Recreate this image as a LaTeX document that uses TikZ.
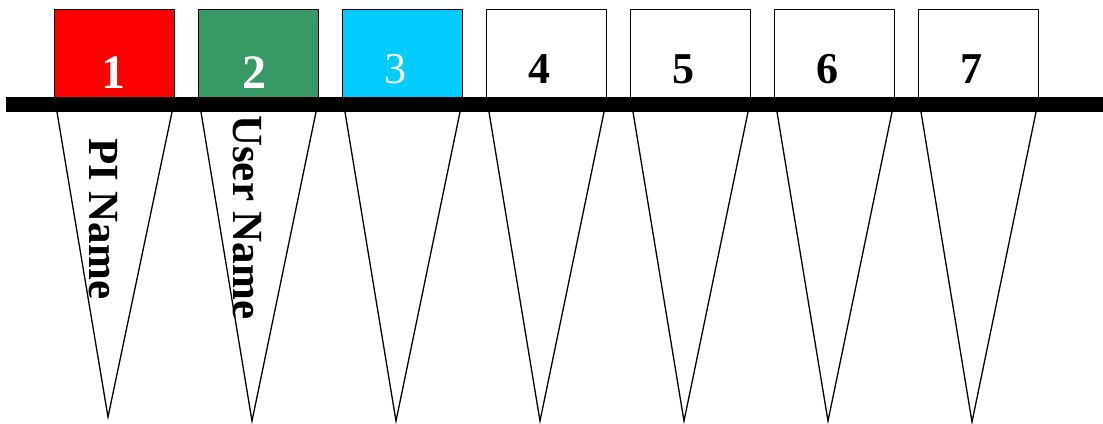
\documentclass[tikz,border=0pt]{standalone}
\usepackage{fontspec}
\setmainfont{Liberation Serif}
\usetikzlibrary{calc}
\definecolor{tubered}{HTML}{FF0000}
\definecolor{tubegreen}{HTML}{369966}
\definecolor{tubecyan}{HTML}{00CCFF}

\tikzset{
  capbox/.style={draw=black, line width=1.4pt, minimum width=120pt, minimum height=88pt, inner sep=0pt, anchor=north west},
  capnum/.style={font=\fontsize{44}{44}\selectfont\bfseries, anchor=base, inner sep=0pt},
  tubelabel/.style={font=\fontsize{43}{43}\selectfont\bfseries, rotate=-90, anchor=base west, inner sep=0pt}
}

\begin{document}
\begin{tikzpicture}[x=1pt, y=-1pt]
\useasboundingbox (0,0) rectangle (1103,423);

% Tubes (cones below the rack)
\foreach \i/\tip in {0/417, 1/421, 2/421, 3/421, 4/421, 5/421, 6/422} {
  \coordinate (tl\i) at (57+144*\i,112);
  \coordinate (tr\i) at (172+144*\i,112);
  \coordinate (tip\i) at (108+144*\i,\tip);
  \draw[line width=1.3pt, line join=miter] (tl\i) -- (tip\i) -- (tr\i);
}

% Caps
\node[capbox, fill=tubered] (box1) at (54,9) {};
\node[capbox, fill=tubegreen] (box2) at (198,9) {};
\node[capbox, fill=tubecyan] (box3) at (342,9) {};
\foreach \i in {4,...,7} {
  \node[capbox, fill=white] (box\i) at (54+144*\i-144,9) {};
}

% Rack bar
\fill[black] (6,97) rectangle (1103,112);

% Cap numbers
\node[capnum, white, font=\fontsize{48}{48}\selectfont\bfseries] (num1) at (113,88) {1};
\node[capnum, white, font=\fontsize{48}{48}\selectfont\bfseries] (num2) at (254,88) {2};
\node[capnum, white, font=\fontsize{44}{44}\selectfont] (num3) at (395,83) {3};
\foreach \i in {4,...,7} {
  \node[capnum] (num\i) at (107+144*\i-144,83) {\i};
}

% Tube labels
\node[tubelabel] (piname) at (89,138) {PI Name};
\node[tubelabel] (username) at (233,115) {User Name};

\end{tikzpicture}
\end{document}
